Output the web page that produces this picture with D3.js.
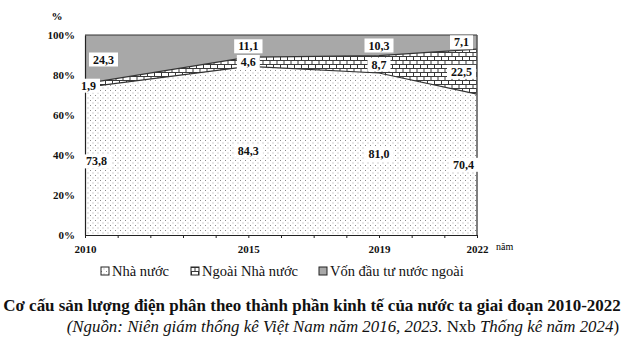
<!DOCTYPE html>
<html>
<head>
<meta charset="utf-8">
<script src="https://cdn.jsdelivr.net/npm/d3@7/dist/d3.min.js"></script>
<style>
  html, body { margin: 0; padding: 0; background: #fff; }
  svg { display: block; }
</style>
</head>
<body>
<svg id="chart" width="629" height="342"></svg>
<script>
// Cơ cấu sản lượng điện phân theo thành phần kinh tế (%)
const years = [2010, 2015, 2019, 2022];
const nhaNuoc = [73.8, 84.3, 81.0, 70.4];
const ngoaiNhaNuoc = [1.9, 4.6, 8.7, 22.5];
const vonNuocNgoai = [24.3, 11.1, 10.3, 7.1];
const seriesNames = ["Nhà nước", "Ngoài Nhà nước", "Vốn đầu tư nước ngoài"];
const yTicks = [0, 20, 40, 60, 80, 100];
const xTickLabels = [2010, 2015, 2019, 2022];

const title = "Cơ cấu sản lượng điện phân theo thành phần kinh tế của nước ta giai đoạn 2010-2022";

const rows = years.map((yr, i) => ({
  year: yr,
  nn: nhaNuoc[i],
  nnn: ngoaiNhaNuoc[i],
  fdi: vonNuocNgoai[i]
}));
const keys = ["nn", "nnn", "fdi"];

const svg = d3.select("#chart");
const serif = "'Liberation Serif', 'Times New Roman', serif";

const x = d3.scaleLinear().domain([2010, 2022]).range([85, 477]);
const y = d3.scaleLinear().domain([0, 100]).range([235, 35]);

// fill patterns
const defs = svg.append("defs");
const dots = defs.append("pattern").attr("id", "dots")
  .attr("patternUnits", "userSpaceOnUse").attr("width", 5).attr("height", 5);
dots.append("rect").attr("width", 5).attr("height", 5).attr("fill", "#fff");
dots.append("rect").attr("x", 0).attr("y", 0).attr("width", 1).attr("height", 1).attr("fill", "#8c8c8c");
dots.append("rect").attr("x", 2.5).attr("y", 2.5).attr("width", 1).attr("height", 1).attr("fill", "#a5a5a5");

const brick = defs.append("pattern").attr("id", "brick")
  .attr("patternUnits", "userSpaceOnUse").attr("width", 7).attr("height", 8);
brick.append("rect").attr("width", 7).attr("height", 8).attr("fill", "#fff");
brick.append("path")
  .attr("d", "M0,0.5H7M0,4.5H7M0.5,0.5V4.5M4,4.5V8")
  .attr("stroke", "#3a3a3a").attr("stroke-width", 1).attr("fill", "none");

const fills = { nn: "url(#dots)", nnn: "url(#brick)", fdi: "#a8a8a8" };

const stack = d3.stack().keys(keys);
const stacked = stack(rows);

const area = d3.area()
  .x(d => x(d.data.year))
  .y0(d => y(d[0]))
  .y1(d => y(d[1]));

svg.append("g").selectAll("path")
  .data(stacked)
  .join("path")
  .attr("d", area)
  .attr("fill", d => fills[d.key]);

// boundary lines between layers
const line = d3.line().x(d => x(d.data.year)).y(d => y(d[1]));
svg.append("g").selectAll("path")
  .data(stacked)
  .join("path")
  .attr("d", line)
  .attr("fill", "none")
  .attr("stroke", "#333")
  .attr("stroke-width", 1.2);

// right border of the plot
svg.append("line")
  .attr("x1", x(2022)).attr("x2", x(2022))
  .attr("y1", y(100)).attr("y2", y(0))
  .attr("stroke", "#555").attr("stroke-width", 1.5);

// axes
const yAxis = d3.axisLeft(y).tickValues(yTicks).tickFormat(d => d + "%").tickSize(0).tickPadding(10);
const gy = svg.append("g").attr("transform", `translate(${x(2010)},0)`).call(yAxis);
gy.select(".domain").attr("stroke", "#222").attr("stroke-width", 1.2);
gy.selectAll("text").attr("font-family", serif).attr("font-weight", "bold")
  .attr("font-size", 11).attr("fill", "#111");

const allYears = d3.range(2010, 2023);
const xAxis = d3.axisBottom(x).tickValues(allYears).tickSize(3).tickSizeOuter(0)
  .tickFormat(d => xTickLabels.includes(d) ? d : "");
const gx = svg.append("g").attr("transform", `translate(0,${y(0)})`).call(xAxis);
gx.select(".domain").attr("stroke", "#222").attr("stroke-width", 1.2);
gx.selectAll("line").attr("stroke", "#222");
gx.selectAll("text").attr("font-family", serif).attr("font-weight", "bold")
  .attr("font-size", 11).attr("fill", "#111").attr("dy", "1.05em");

svg.append("text").attr("x", 57).attr("y", 20).attr("text-anchor", "middle")
  .attr("font-family", serif).attr("font-weight", "bold").attr("font-size", 11).text("%");
svg.append("text").attr("x", 496).attr("y", 250)
  .attr("font-family", serif).attr("font-size", 10).text("năm");

// value labels at the middle of each layer, with white boxes
const labelLayer = svg.append("g");
const fmt = v => d3.format(".1f")(v).replace(".", ",");
const startShift = { nn: 1, nnn: -4, fdi: 8 };
const endShift = { nn: 3, nnn: 5, fdi: 8 };
stacked.forEach(layer => {
  layer.forEach((d, i) => {
    const val = d[1] - d[0];
    let anchor = "middle", lx = x(d.data.year);
    if (i === 0) { anchor = "start"; lx = x(d.data.year) + startShift[layer.key]; }
    if (i === layer.length - 1) { anchor = "end"; lx = x(d.data.year) - endShift[layer.key]; }
    const ly = y((d[0] + d[1]) / 2);
    const g = labelLayer.append("g");
    const t = g.append("text")
      .attr("x", lx).attr("y", ly).attr("dy", "0.35em")
      .attr("text-anchor", anchor)
      .attr("font-family", serif).attr("font-weight", "bold").attr("font-size", 12)
      .attr("fill", "#111")
      .text(fmt(val));
    const bb = t.node().getBBox();
    g.insert("rect", "text")
      .attr("x", bb.x - 4).attr("y", bb.y)
      .attr("width", bb.width + 8).attr("height", bb.height)
      .attr("fill", "#fff");
  });
});

// legend
const legendX = [101, 191, 319];
const legend = svg.append("g");
keys.forEach((k, i) => {
  const g = legend.append("g").attr("transform", `translate(${legendX[i]},271)`);
  g.append("rect").attr("x", 0).attr("y", -4).attr("width", 8).attr("height", 8)
    .attr("fill", fills[k]).attr("stroke", "#222").attr("stroke-width", 1);
  g.append("text").attr("x", 11).attr("y", 0).attr("dy", "0.35em")
    .attr("font-family", serif).attr("font-size", 14.5).attr("fill", "#111")
    .text(seriesNames[i]);
});

// scale a text element's font so that it spans the given width
function fitWidth(sel, width) {
  const len = sel.node().getComputedTextLength();
  const fs = parseFloat(sel.attr("font-size"));
  sel.attr("font-size", (fs * width / len).toFixed(2));
}

// title and source
const titleText = svg.append("text").attr("x", 312).attr("y", 311).attr("text-anchor", "middle")
  .attr("font-family", serif).attr("font-weight", "bold").attr("font-size", 14)
  .attr("fill", "#111").text(title);
fitWidth(titleText, 618);

const src = svg.append("text").attr("x", 619).attr("y", 332).attr("text-anchor", "end")
  .attr("font-family", serif).attr("font-size", 14).attr("fill", "#111");
src.append("tspan").attr("font-style", "italic").text("(Nguồn: Niên giám thống kê Việt Nam năm 2016, 2023.");
src.append("tspan").text(" Nxb ");
src.append("tspan").attr("font-style", "italic").text("Thống kê năm 2024");
src.append("tspan").text(")");
fitWidth(src, 553);
</script>
</body>
</html>
